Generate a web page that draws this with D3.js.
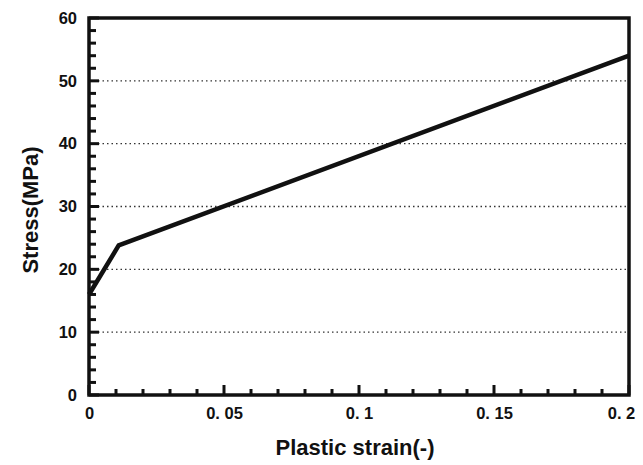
<!DOCTYPE html>
<html>
<head>
<meta charset="utf-8">
<script src="https://cdn.jsdelivr.net/npm/d3@7"></script>
<style>
  body { margin: 0; background: #fff; }
  text { font-family: "Liberation Sans", Arial, sans-serif; font-weight: bold; fill: #111; }
</style>
</head>
<body>
<div id="chart"></div>
<script>
// Data
const strain = [0, 0.011, 0.2];
const stress = [16, 23.8, 54];
const xTicks = [0, 0.05, 0.1, 0.15, 0.2];
const xTickLabels = ["0", "0. 05", "0. 1", "0. 15", "0. 2"];
const yTicks = [0, 10, 20, 30, 40, 50, 60];
const gridValues = [10, 20, 30, 40, 50];

const width = 643;
const height = 465;
const margin = { top: 18, right: 14, bottom: 70, left: 89 };

const svg = d3
  .select("#chart")
  .append("svg")
  .attr("width", width)
  .attr("height", height);

const x = d3.scaleLinear().domain([0, 0.2]).range([margin.left, width - margin.right]);
const y = d3.scaleLinear().domain([0, 60]).range([height - margin.bottom, margin.top]);

// Dotted gridlines
svg
  .append("g")
  .selectAll("line")
  .data(gridValues)
  .enter()
  .append("line")
  .attr("x1", x(0))
  .attr("x2", x(0.2))
  .attr("y1", (d) => y(d))
  .attr("y2", (d) => y(d))
  .attr("stroke", "#333")
  .attr("stroke-width", 1.4)
  .attr("stroke-dasharray", "1.5,3");

// Minor ticks (inside)
const yMinor = d3.range(0, 61, 2);
svg
  .append("g")
  .selectAll("line")
  .data(yMinor)
  .enter()
  .append("line")
  .attr("x1", x(0))
  .attr("x2", (d) => x(0) + (d % 10 === 0 ? 10 : 7))
  .attr("y1", (d) => y(d))
  .attr("y2", (d) => y(d))
  .attr("stroke", "#111")
  .attr("stroke-width", 3);

const xMinor = d3.range(0, 21).map((i) => i / 100);
svg
  .append("g")
  .selectAll("line")
  .data(xMinor)
  .enter()
  .append("line")
  .attr("x1", (d) => x(d))
  .attr("x2", (d) => x(d))
  .attr("y1", y(0))
  .attr("y2", (d, i) => y(0) - (i % 5 === 0 ? 10 : 6))
  .attr("stroke", "#111")
  .attr("stroke-width", 3);

// Frame
svg
  .append("rect")
  .attr("x", x(0))
  .attr("y", y(60))
  .attr("width", x(0.2) - x(0))
  .attr("height", y(0) - y(60))
  .attr("fill", "none")
  .attr("stroke", "#111")
  .attr("stroke-width", 3.5);

// Axes labels
const xAxis = d3
  .axisBottom(x)
  .tickValues(xTicks)
  .tickSize(0)
  .tickPadding(12)
  .tickFormat((d, i) => xTickLabels[i]);
svg
  .append("g")
  .attr("transform", `translate(0, ${y(0)})`)
  .call(xAxis)
  .call((g) => g.select(".domain").remove())
  .call((g) => g.selectAll(".tick:last-of-type text").attr("dx", -8))
  .selectAll("text")
  .style("font-size", "16.5px")
  .style("font-family", "'Liberation Sans', Arial, sans-serif")
  .style("font-weight", "bold");

const yAxis = d3.axisLeft(y).tickValues(yTicks).tickSize(0).tickPadding(12);
svg
  .append("g")
  .attr("transform", `translate(${x(0)}, 0)`)
  .call(yAxis)
  .call((g) => g.select(".domain").remove())
  .selectAll("text")
  .style("font-size", "16.5px")
  .style("font-family", "'Liberation Sans', Arial, sans-serif")
  .style("font-weight", "bold");

// Curve
const line = d3
  .line()
  .x((d, i) => x(strain[i]))
  .y((d) => y(d));
svg
  .append("path")
  .datum(stress)
  .attr("d", line)
  .attr("fill", "none")
  .attr("stroke", "#111")
  .attr("stroke-width", 4.5)
  .attr("stroke-linejoin", "miter");

// Titles
svg
  .append("text")
  .attr("x", 355)
  .attr("y", 455)
  .attr("text-anchor", "middle")
  .style("font-size", "22px")
  .text("Plastic strain(-)");

svg
  .append("text")
  .attr("transform", "translate(38, 210) rotate(-90)")
  .attr("text-anchor", "middle")
  .style("font-size", "22px")
  .text("Stress(MPa)");
</script>
</body>
</html>
